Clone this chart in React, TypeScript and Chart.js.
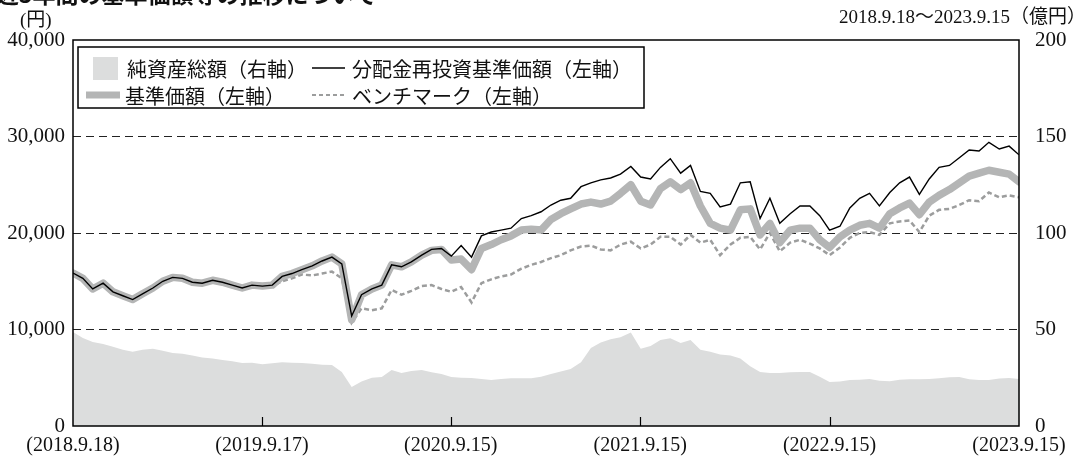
import React, { useEffect, useRef } from "react";
import { Chart, registerables } from "chart.js";

Chart.register(...registerables);

// ---- data ----
const TOTAL_DAYS = 1823; // 2018.9.18 -> 2023.9.15
const tickDays = [0, 364, 728, 1093, 1458, 1823];
const tickLabels = ["(2018.9.18)", "(2019.9.17)", "(2020.9.15)", "(2021.9.15)", "(2022.9.15)", "(2023.9.15)"];
const leftTicks = [0, 10000, 20000, 30000, 40000];
const rightTicks = [0, 50, 100, 150, 200];

// 分配金再投資基準価額 (円)
const reinvestNav = [
  15850, 15300, 14200, 14800, 13900, 13500, 13100, 13700, 14300, 15000,
  15400, 15300, 14900, 14800, 15100, 14900, 14600, 14300, 14600, 14500,
  14600, 15500, 15800, 16200, 16600, 17100, 17500, 16800, 11400, 13600,
  14200, 14600, 16700, 16500, 17000, 17700, 18300, 18400, 17600, 18700,
  17500, 19700, 20100, 20300, 20500, 21500, 21800, 22200, 22900, 23400,
  23600, 24800, 25200, 25500, 25700, 26100, 26900, 25800, 25600, 26800,
  27700, 26200, 27000, 24300, 24100, 22700, 23000, 25200, 25300, 21500,
  23600, 21000, 22000, 22800, 22800, 21800, 20300, 20700, 22600, 23600,
  24100, 22800, 24200, 25200, 25800, 24000, 25600, 26800, 27000, 27800,
  28600, 28500, 29400, 28700, 29000, 28100,
];

// 基準価額 (円)
const nav = [
  15850, 15300, 14200, 14800, 13900, 13500, 13100, 13700, 14300, 15000,
  15400, 15300, 14900, 14800, 15100, 14900, 14600, 14300, 14600, 14500,
  14600, 15500, 15800, 16200, 16600, 17100, 17500, 16800, 11000, 13600,
  14200, 14600, 16700, 16500, 17000, 17700, 18200, 18300, 17200, 17300,
  16200, 18400, 18800, 19300, 19700, 20300, 20400, 20300, 21400, 22000,
  22500, 23000, 23200, 23000, 23300, 24100, 25000, 23300, 22900, 24600,
  25300, 24500, 25200, 22800, 21000, 20500, 20300, 22400, 22500, 19800,
  21000, 19000, 20300, 20500, 20500, 19300, 18500, 19600, 20300, 20800,
  21000, 20500, 22000, 22600, 23100, 21900, 23200, 23900, 24500, 25200,
  25900, 26200, 26500, 26300, 26100, 25300,
];

// ベンチマーク (円)
const benchmark = [
  15850, 15300, 14200, 14800, 13900, 13500, 13100, 13700, 14300, 15000,
  15400, 15300, 14900, 14800, 15100, 14900, 14600, 14300, 14600, 14500,
  14500, 15000, 15300, 15700, 15600, 15800, 16000, 15300, 10700, 12200,
  12000, 12200, 14100, 13600, 14000, 14500, 14600, 14200, 13900, 14400,
  12800, 14800, 15200, 15500, 15700, 16300, 16700, 17000, 17400, 17700,
  18200, 18600, 18700, 18300, 18200, 18800, 19100, 18400, 18800, 19600,
  19600, 18800, 19800, 19000, 19300, 17700, 18800, 19500, 19600, 18300,
  20000, 18100, 19000, 19300, 18900, 18400, 17700, 18500, 19500, 20000,
  20100, 19800, 21000, 21200, 21300, 20100, 21800, 22400, 22500, 22900,
  23400, 23300, 24200, 23700, 23900, 23700,
];

// 純資産総額 (億円)
const netAssets = [
  48.7, 45.6, 43.5, 42.5, 41.0, 39.5, 38.5, 39.5, 40.0, 39.0,
  37.8, 37.5, 36.5, 35.5, 35.0, 34.2, 33.5, 32.6, 32.8, 32.0,
  32.5, 33.0, 32.8, 32.6, 32.2, 31.8, 31.6, 28.0, 20.2, 23.0,
  25.0, 25.4, 29.0, 27.5, 28.5, 29.0, 27.8, 27.0, 25.4, 25.0,
  24.9, 24.3, 23.8, 24.3, 24.8, 24.8, 24.8, 25.5, 27.0, 28.2,
  29.5, 33.0, 40.4, 43.2, 45.0, 46.0, 48.5, 40.0, 41.5, 44.5,
  45.5, 43.0, 44.6, 39.5, 38.5, 37.0, 36.5, 35.0, 31.0, 28.0,
  27.5, 27.5, 27.8, 28.0, 28.0, 25.5, 22.8, 23.0, 23.8, 24.0,
  24.3, 23.5, 23.2, 24.0, 24.2, 24.2, 24.4, 24.8, 25.2, 25.4,
  24.2, 23.8, 23.8, 24.6, 24.9, 24.3,
];

const legendLabels = ["純資産総額（右軸）", "分配金再投資基準価額（左軸）", "基準価額（左軸）", "ベンチマーク（左軸）"];

const sampleDays = reinvestNav.map((_, i) => Math.round((i * TOTAL_DAYS) / (reinvestNav.length - 1)));

const SERIF = "'Liberation Serif', 'Times New Roman', 'Noto Sans CJK JP', serif";
const LEGEND_FONT = "20px 'Noto Sans CJK JP', sans-serif";
const AREA_COLOR = "#dcdddd";
const NAV_COLOR = "#b4b5b5";
const BM_COLOR = "#9c9d9d";

const framePlugin = {
  id: "frame",
  afterDatasetsDraw(chart: any) {
    const { ctx, chartArea } = chart;
    const x = chart.scales.x;
    ctx.save();
    // inner tick marks on the x axis
    ctx.strokeStyle = "#000";
    ctx.lineWidth = 1.2;
    tickDays.slice(1, -1).forEach((d) => {
      const px = Math.round(x.getPixelForValue(d)) + 0.5;
      ctx.beginPath();
      ctx.moveTo(px, chartArea.bottom);
      ctx.lineTo(px, chartArea.bottom - 9);
      ctx.stroke();
    });
    // frame
    ctx.lineWidth = 1.5;
    ctx.strokeRect(chartArea.left, chartArea.top, chartArea.right - chartArea.left, chartArea.bottom - chartArea.top);

    // legend
    const lx = chartArea.left + 5;
    const ly = chartArea.top + 7;
    const lw = 566;
    const lh = 61;
    ctx.fillStyle = "#fff";
    ctx.fillRect(lx, ly, lw, lh);
    ctx.strokeStyle = "#000";
    ctx.lineWidth = 1.5;
    ctx.strokeRect(lx, ly, lw, lh);

    const row1 = ly + 21;
    const row2 = ly + 48;
    const col2 = lx + 234;
    // area swatch
    ctx.fillStyle = AREA_COLOR;
    ctx.fillRect(lx + 15, row1 - 11, 25, 23);
    // black line
    ctx.strokeStyle = "#000";
    ctx.lineWidth = 1.5;
    ctx.beginPath();
    ctx.moveTo(col2, row1);
    ctx.lineTo(col2 + 33, row1);
    ctx.stroke();
    // thick gray
    ctx.strokeStyle = NAV_COLOR;
    ctx.lineWidth = 7;
    ctx.beginPath();
    ctx.moveTo(lx + 8, row2);
    ctx.lineTo(lx + 42, row2);
    ctx.stroke();
    // dashed
    ctx.strokeStyle = BM_COLOR;
    ctx.lineWidth = 2;
    ctx.setLineDash([4, 3]);
    ctx.beginPath();
    ctx.moveTo(col2, row2);
    ctx.lineTo(col2 + 33, row2);
    ctx.stroke();
    ctx.setLineDash([]);

    ctx.fillStyle = "#111";
    ctx.font = LEGEND_FONT;
    ctx.textBaseline = "middle";
    ctx.textAlign = "left";
    ctx.fillText(legendLabels[0], lx + 49, row1 + 1);
    ctx.fillText(legendLabels[1], col2 + 40, row1 + 1);
    ctx.fillText(legendLabels[2], lx + 47, row2 + 1);
    ctx.fillText(legendLabels[3], col2 + 40, row2 + 1);
    ctx.restore();
  },
};

export default function App() {
  const canvasRef = useRef<HTMLCanvasElement | null>(null);

  useEffect(() => {
    if (!canvasRef.current) return;
    const chart = new Chart(canvasRef.current, {
      type: "line",
      data: {
        labels: sampleDays,
        datasets: [
          {
            label: legendLabels[1],
            data: reinvestNav,
            yAxisID: "y",
            borderColor: "#000",
            borderWidth: 1.4,
            pointRadius: 0,
            tension: 0,
            fill: false,
          },
          {
            label: legendLabels[2],
            data: nav,
            yAxisID: "y",
            borderColor: NAV_COLOR,
            borderWidth: 7.5,
            borderCapStyle: "round",
            borderJoinStyle: "round",
            pointRadius: 0,
            tension: 0,
            fill: false,
          },
          {
            label: legendLabels[3],
            data: benchmark,
            yAxisID: "y",
            borderColor: BM_COLOR,
            borderWidth: 2.5,
            borderDash: [5, 3],
            pointRadius: 0,
            tension: 0,
            fill: false,
          },
          {
            label: legendLabels[0],
            data: netAssets,
            yAxisID: "y2",
            borderColor: AREA_COLOR,
            borderWidth: 0,
            backgroundColor: AREA_COLOR,
            pointRadius: 0,
            tension: 0,
            fill: "origin",
          },
        ],
      },
      options: {
        responsive: false,
        animation: false,
        layout: { padding: { top: 40, left: 0, right: 0, bottom: 0 } },
        plugins: { legend: { display: false }, tooltip: { enabled: false } },
        scales: {
          x: {
            type: "linear",
            min: 0,
            max: TOTAL_DAYS,
            afterBuildTicks: (s: any) => {
              s.ticks = tickDays.map((v) => ({ value: v }));
            },
            afterFit: (s: any) => {
              s.height = 35;
            },
            grid: { display: false },
            border: { display: false },
            ticks: {
              autoSkip: false,
              maxRotation: 0,
              padding: 0,
              color: "#111",
              font: { family: SERIF, size: 20 },
              callback: (_v: any, i: number) => tickLabels[i],
            },
          },
          y: {
            position: "left",
            min: 0,
            max: 40000,
            afterBuildTicks: (s: any) => {
              s.ticks = leftTicks.map((v) => ({ value: v }));
            },
            afterFit: (s: any) => {
              s.width = 73;
            },
            border: { display: false, dash: [8, 5] },
            grid: {
              drawTicks: false,
              lineWidth: 1,
              color: (c: any) => (c.tick && (c.tick.value === 0 || c.tick.value === 40000) ? "rgba(0,0,0,0)" : "#222"),
            },
            ticks: {
              padding: 8,
              color: "#111",
              font: { family: SERIF, size: 21 },
              callback: (v: any) => Number(v).toLocaleString("en-US"),
            },
          },
          y2: {
            position: "right",
            min: 0,
            max: 200,
            afterBuildTicks: (s: any) => {
              s.ticks = rightTicks.map((v) => ({ value: v }));
            },
            afterFit: (s: any) => {
              s.width = 70;
            },
            border: { display: false },
            grid: { display: false, drawTicks: false },
            ticks: {
              padding: 16,
              color: "#111",
              font: { family: SERIF, size: 21 },
            },
          },
        },
      },
      plugins: [framePlugin],
    });
    return () => chart.destroy();
  }, []);

  return (
    <div style={{ position: "fixed", left: 0, top: 0, width: 1089, height: 461, background: "#fff", overflow: "hidden" }}>
      <canvas ref={canvasRef} width={1089} height={461} style={{ position: "absolute", left: 0, top: 0 }} />
      <div
        style={{
          position: "absolute",
          left: -27,
          top: -18,
          font: "bold 23px 'Noto Sans CJK JP', sans-serif",
          lineHeight: "23px",
          whiteSpace: "nowrap",
          color: "#111",
        }}
      >
        最近5年間の基準価額等の推移について
      </div>
      <div
        style={{
          position: "absolute",
          left: 20,
          top: 9,
          font: "19px 'Liberation Serif', 'Noto Sans CJK JP', serif",
          lineHeight: "22px",
          whiteSpace: "nowrap",
          color: "#111",
        }}
      >
        (円)
      </div>
      <div
        style={{
          position: "absolute",
          right: 3,
          top: 6,
          font: "19px 'Liberation Serif', 'Noto Sans CJK JP', serif",
          lineHeight: "22px",
          whiteSpace: "nowrap",
          color: "#111",
        }}
      >
        2018.9.18～2023.9.15（億円）
      </div>
    </div>
  );
}
